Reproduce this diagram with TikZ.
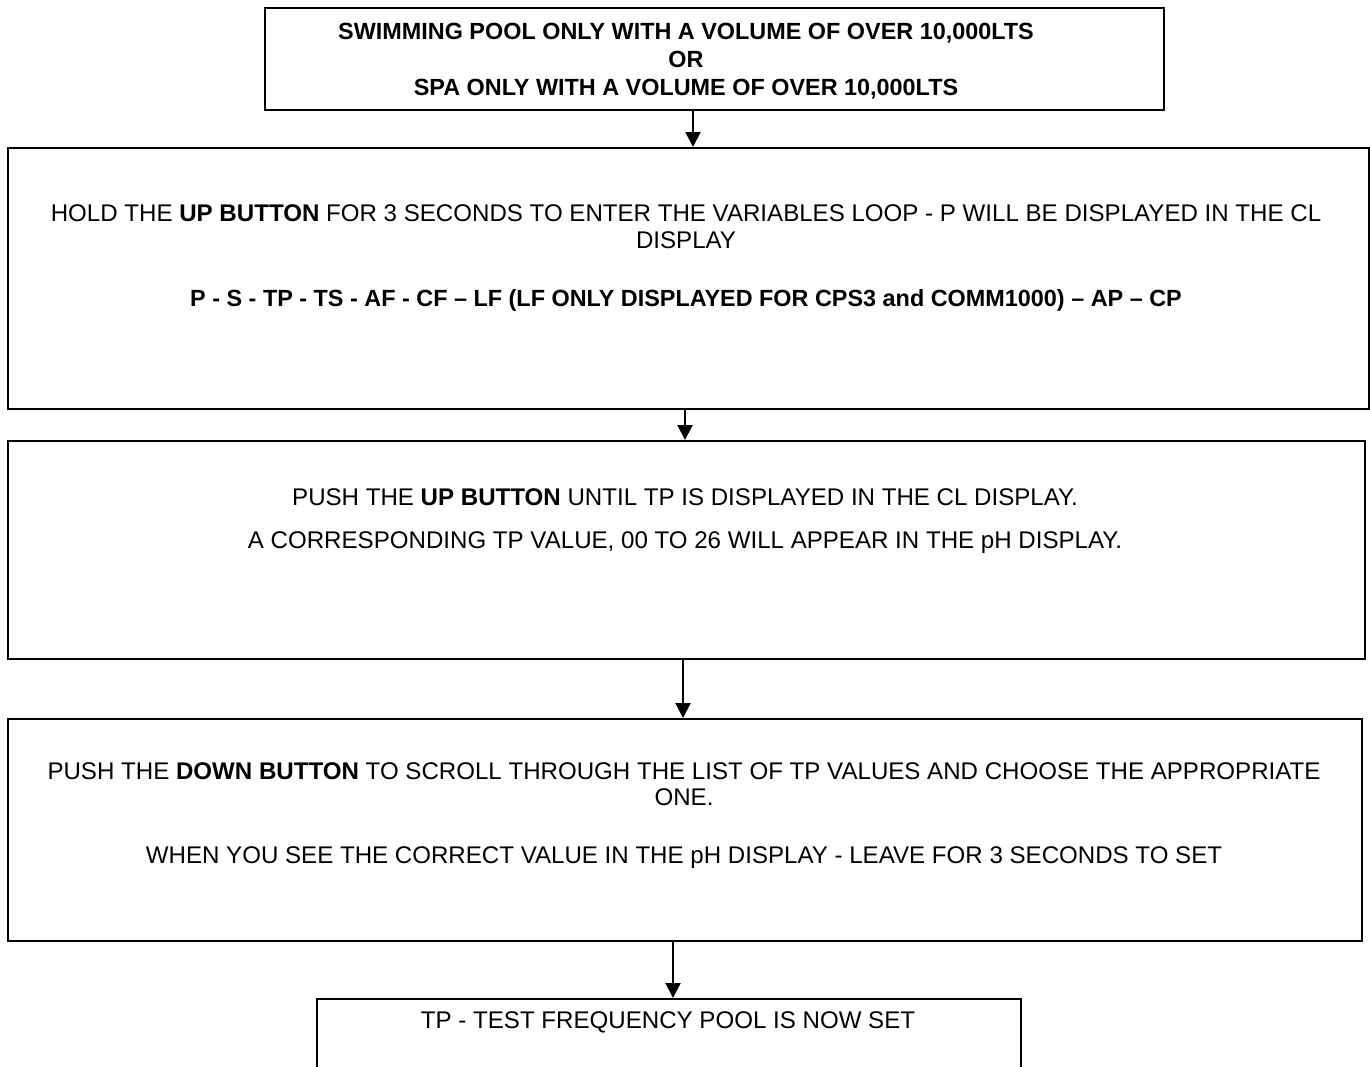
\documentclass[tikz,border=0pt]{standalone}
\usepackage{fontspec}
\setmainfont{Liberation Sans}
\usetikzlibrary{arrows.meta}

\begin{document}
\begin{tikzpicture}[x=1pt, y=-1pt,
  box/.style={draw=black, line width=2pt, fill=white, rectangle, inner sep=0pt, anchor=north west},
  txt/.style={inner sep=0pt, anchor=base, font=\fontsize{24.1}{27}\selectfont},
  boldtxt/.style={inner sep=0pt, anchor=base, font=\fontsize{23.4}{27}\selectfont\bfseries},
  arr/.style={draw=black, line width=2pt, -{Triangle[length=15pt, width=15pt]}}
]
\useasboundingbox (0,0) rectangle (1370,1066);
\fill[white] (0,0) rectangle (1370,1066);
\clip (0,0) rectangle (1370,1066);

% boxes
\node[box, minimum width=899pt, minimum height=102pt] (b1) at (264,7) {};
\node[box, minimum width=1361pt, minimum height=261pt] (b2) at (7,147) {};
\node[box, minimum width=1357pt, minimum height=218pt] (b3) at (7,440) {};
\node[box, minimum width=1354pt, minimum height=222pt] (b4) at (7,718) {};
\node[box, minimum width=704pt, minimum height=140pt] (b5) at (316,998) {};

% box 1
\node[boldtxt] (t11) at (686,39.5) {SWIMMING POOL ONLY WITH A VOLUME OF OVER 10,000LTS};
\node[boldtxt] (t12) at (686,67.5) {OR};
\node[boldtxt] (t13) at (686,95.5) {SPA ONLY WITH A VOLUME OF OVER 10,000LTS};

% box 2
\node[txt] (t21) at (686,221) {HOLD THE \textbf{UP BUTTON} FOR 3 SECONDS TO ENTER THE VARIABLES LOOP - P WILL BE DISPLAYED IN THE CL};
\node[txt] (t22) at (686,248) {DISPLAY};
\node[boldtxt] (t23) at (686,306) {P - S - TP - TS - AF - CF – LF (LF ONLY DISPLAYED FOR CPS3 and COMM1000) – AP – CP};

% box 3
\node[txt] (t31) at (685,505) {PUSH THE \textbf{UP BUTTON} UNTIL TP IS DISPLAYED IN THE CL DISPLAY.};
\node[txt] (t32) at (685,548) {A CORRESPONDING TP VALUE, 00 TO 26 WILL APPEAR IN THE pH DISPLAY.};

% box 4
\node[txt] (t41) at (684,779) {PUSH THE \textbf{DOWN BUTTON} TO SCROLL THROUGH THE LIST OF TP VALUES AND CHOOSE THE APPROPRIATE};
\node[txt] (t42) at (684,805) {ONE.};
\node[txt] (t43) at (684,863) {WHEN YOU SEE THE CORRECT VALUE IN THE pH DISPLAY - LEAVE FOR 3 SECONDS TO SET};

% box 5
\node[txt] (t51) at (668,1028) {TP - TEST FREQUENCY POOL IS NOW SET};

% connector columns
\coordinate (c1) at (693,0);
\coordinate (c2) at (685,0);
\coordinate (c3) at (683,0);
\coordinate (c4) at (673,0);

\draw[arr] (b1.south -| c1) -- (b2.north -| c1);
\draw[arr] (b2.south -| c2) -- (b3.north -| c2);
\draw[arr] (b3.south -| c3) -- (b4.north -| c3);
\draw[arr] (b4.south -| c4) -- (b5.north -| c4);
\end{tikzpicture}
\end{document}
